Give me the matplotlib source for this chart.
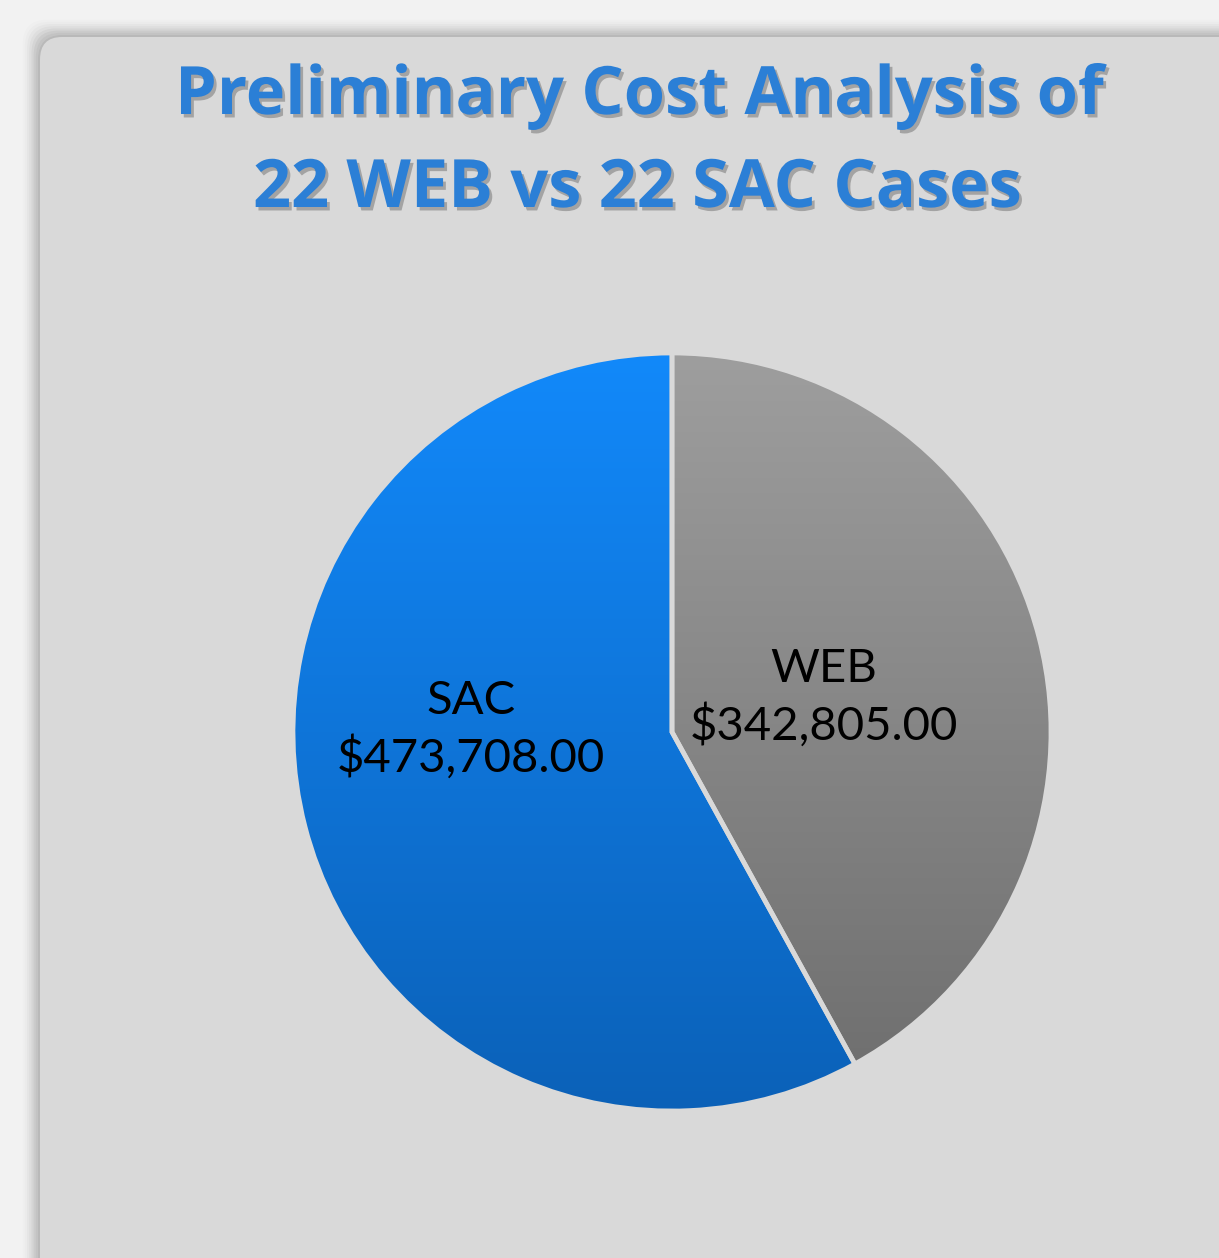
import numpy as np
import matplotlib
matplotlib.use("Agg")
import matplotlib.pyplot as plt
from matplotlib.patches import FancyBboxPatch
from matplotlib.colors import LinearSegmentedColormap
import matplotlib.patheffects as pe

# ---- data ----
categories = ["WEB", "SAC"]
costs = [342805.00, 473708.00]
title_lines = ["Preliminary Cost Analysis of", "22 WEB vs 22 SAC Cases"]

W, H = 1219, 1258
fig = plt.figure(figsize=(W / 100, H / 100), dpi=100)
fig.patch.set_facecolor("#f2f2f2")

# panel with soft shadow
px0, py_top = 40, 37
for i, a in enumerate(np.linspace(0.05, 0.012, 8)):
    off = 2 + i * 2.2
    sh = FancyBboxPatch(((px0 - off) / W, -0.2), (W + 200) / W, (H - py_top + off + 0.2 * H) / H,
                        boxstyle="round,pad=0,rounding_size=0.02", transform=fig.transFigure,
                        facecolor="black", edgecolor="none", alpha=a, zorder=0)
    fig.add_artist(sh)
panel = FancyBboxPatch((px0 / W, -0.2), (W + 200) / W, (H - py_top) / H + 0.2,
                       boxstyle="round,pad=0,rounding_size=0.018", transform=fig.transFigure,
                       facecolor="#d9d9d9", edgecolor="none", zorder=1)
fig.add_artist(panel)

# title
title_color = "#2b7fd6"
shadow = [pe.withSimplePatchShadow(offset=(2, -2.5), shadow_rgbFace=(0.25, 0.25, 0.25), alpha=0.35)]
fig.text(639 / W, 1 - 114 / H, title_lines[0], ha="center", va="baseline", fontsize=48,
         fontweight="bold", family="Open Sans", color=title_color, zorder=5, path_effects=shadow)
fig.text(637 / W, 1 - 207 / H, title_lines[1], ha="center", va="baseline", fontsize=48,
         fontweight="bold", family="Open Sans", color=title_color, zorder=5, path_effects=shadow)

# pie axes
cx, cy, R = 672, 732, 379
half = 420
ax = fig.add_axes([(cx - half) / W, (H - cy - half) / H, 2 * half / W, 2 * half / H])
ax.set_zorder(3)

wedges, _ = ax.pie(costs, startangle=90, counterclock=False, radius=1.0,
                   wedgeprops=dict(edgecolor="#d9d9d9", linewidth=3.4))

grads = [
    LinearSegmentedColormap.from_list("g", ["#6d6d6d", "#9e9e9e"]),   # WEB
    LinearSegmentedColormap.from_list("b", ["#0b61b8", "#1289fa"]),   # SAC
]
grad = np.linspace(0, 1, 256).reshape(-1, 1)
for w, cmap in zip(wedges, grads):
    w.set_facecolor("none")
    im = ax.imshow(grad, cmap=cmap, extent=[-1, 1, -1, 1], origin="lower",
                   aspect="auto", zorder=1, interpolation="bilinear")
    im.set_clip_path(w)
    w.set_zorder(2)
lim = half / R
ax.set_xlim(-lim, lim)
ax.set_ylim(-lim, lim)
ax.set_aspect("equal")
ax.axis("off")

# labels
label_pos = {"WEB": (0.40, 0.09), "SAC": (-0.53, 0.005)}
for cat, val in zip(categories, costs):
    x, y = label_pos[cat]
    ax.text(x, y, f"{cat}\n${val:,.2f}", ha="center", va="center", fontsize=34,
            family="Lato", color="black", linespacing=1.35, zorder=4)

fig.savefig("out.png", dpi=100, facecolor=fig.get_facecolor())
